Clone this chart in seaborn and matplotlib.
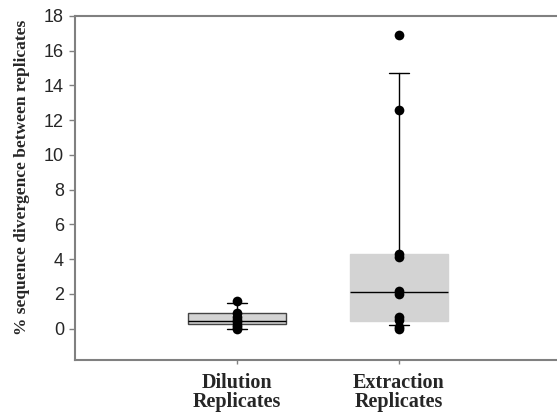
import matplotlib
matplotlib.use("Agg")
import matplotlib.pyplot as plt
import pandas as pd
import seaborn as sns

# values
groups = ["Dilution\nReplicates", "Extraction\nReplicates"]
dilution = [1.6, 0.9, 0.7, 0.5, 0.4, 0.2, 0.1, 0.0]
extraction = [16.9, 12.6, 4.3, 4.1, 2.2, 2.0, 0.7, 0.5, 0.1, 0.0]

# box summary (SigmaPlot style: 10th/90th percentile whiskers)
q1 = [0.25, 0.45]
med = [0.45, 2.1]
q3 = [0.9, 4.3]
whis_lo = [0.0, 0.2]
whis_hi = [1.5, 14.7]

sns.set_style("white")

df = pd.DataFrame({
    "group": [groups[0]] * len(dilution) + [groups[1]] * len(extraction),
    "value": dilution + extraction,
})

fig = plt.figure(figsize=(5.57, 4.15), dpi=100)
ax = fig.add_axes([75 / 557, 55 / 415, 482 / 557, 344 / 415])

stats = []
for i in range(2):
    stats.append(dict(med=med[i], q1=q1[i], q3=q3[i],
                      whislo=whis_lo[i], whishi=whis_hi[i], fliers=[]))
bp = ax.bxp(stats, positions=[0, 1], widths=0.61, patch_artist=True,
            showfliers=False,
            boxprops=dict(facecolor="#d3d3d3", edgecolor="#d3d3d3", linewidth=1),
            medianprops=dict(color="black", linewidth=1),
            whiskerprops=dict(color="black", linewidth=1),
            capprops=dict(color="black", linewidth=1), capwidths=0.12)
bp["boxes"][0].set_edgecolor("#444444")

sns.stripplot(data=df, x="group", y="value", order=groups, jitter=False,
              color="black", size=7, ax=ax, zorder=5)

ax.set_xlim(-1, 1.975)
ax.set_ylim(-1.8, 18)
ax.set_yticks(range(0, 19, 2))
ax.set_xticks([0, 1])
ax.set_xticklabels(groups, fontfamily="Liberation Serif", fontweight="bold",
                   fontsize=14.5, linespacing=0.95)
ax.set_xlabel("")
ax.set_ylabel("% sequence divergence between replicates",
              fontfamily="Liberation Serif", fontweight="bold", fontsize=12.5)
ax.yaxis.set_label_coords(-0.094, 0.53)
for lab in ax.get_yticklabels():
    lab.set_fontfamily("Liberation Sans")
    lab.set_fontsize(13)

ax.spines["right"].set_visible(False)
for s in ["left", "top", "bottom"]:
    ax.spines[s].set_color("#808080")
    ax.spines[s].set_linewidth(1.5)
ax.tick_params(axis="y", direction="out", length=4, width=1, color="#808080",
               left=True, pad=4)
ax.tick_params(axis="x", direction="out", length=3, width=1, color="#808080",
               bottom=True, pad=6)

fig.savefig("out.png", dpi=100)
